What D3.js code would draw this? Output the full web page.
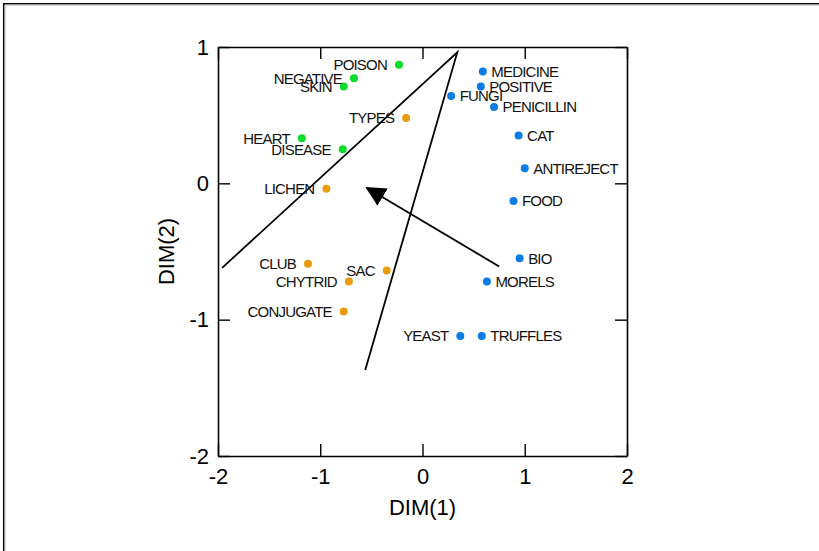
<!DOCTYPE html>
<html>
<head>
<meta charset="utf-8">
<script src="https://cdn.jsdelivr.net/npm/d3@7"></script>
<style>
  body { margin: 0; background: #fff; }
  svg text { font-family: "Liberation Sans", Arial, sans-serif; }
</style>
</head>
<body>
<div id="graphic"></div>
<script>
// configuration terms, coordinates
var terms = ["POISON", "NEGATIVE", "SKIN", "HEART", "DISEASE",
    "TYPES", "LICHEN", "CLUB", "SAC", "CHYTRID", "CONJUGATE",
    "MEDICINE", "POSITIVE", "FUNGI", "PENICILLIN", "CAT", "ANTIREJECT",
    "FOOD", "BIO", "MORELS", "YEAST", "TRUFFLES"];
var dim1 = [-0.23, -0.67, -0.77, -1.18, -0.78,
    -0.16, -0.94, -1.12, -0.35, -0.72, -0.77,
    0.59, 0.57, 0.28, 0.70, 0.94, 1.00,
    0.89, 0.95, 0.63, 0.37, 0.58];
var dim2 = [0.87, 0.77, 0.71, 0.33, 0.25,
    0.48, -0.04, -0.59, -0.64, -0.72, -0.94,
    0.82, 0.71, 0.64, 0.56, 0.35, 0.11,
    -0.13, -0.55, -0.72, -1.12, -1.12];
var cluster = [1, 1, 1, 1, 1,
    2, 2, 2, 2, 2, 2,
    3, 3, 3, 3, 3, 3, 3, 3, 3, 3, 3];
var labelSide = ["L", "L", "L", "L", "L",
    "L", "L", "L", "L", "L", "L",
    "R", "R", "R", "R", "R", "R", "R", "R", "R", "L", "R"];

// partition lines and property vector
var boundX = [-1.96, 0.34, -0.56],
    boundY = [-0.62, 0.96, -1.37];
var arrowX = [0.75, -0.55],
    arrowY = [-0.61, -0.03];

var tickValues = [-2, -1, 0, 1, 2];
var xTitle = "DIM(1)", yTitle = "DIM(2)";
var clusterColors = { 1: "#0adc2a", 2: "#e89c0c", 3: "#0a7ce6" };

var margin = { top: 47, right: 192, bottom: 95, left: 218 };
var W = 819, H = 551;
var width = W - margin.left - margin.right,
    height = H - margin.top - margin.bottom;

var svg = d3.select("#graphic").append("svg")
    .attr("width", W)
    .attr("height", H);

// window frame (top and left edges only)
svg.append("line").attr("x1", 3).attr("y1", 3.7).attr("x2", W).attr("y2", 3.7)
    .attr("stroke", "#000").attr("stroke-width", 1.5);
svg.append("line").attr("x1", 3.7).attr("y1", 3).attr("x2", 3.7).attr("y2", H)
    .attr("stroke", "#000").attr("stroke-width", 1.5);
svg.append("line").attr("x1", 5).attr("y1", 5).attr("x2", W).attr("y2", 5)
    .attr("stroke", "#b0b0b0").attr("stroke-width", 1);
svg.append("line").attr("x1", 5).attr("y1", 5).attr("x2", 5).attr("y2", H)
    .attr("stroke", "#b0b0b0").attr("stroke-width", 1);

var g = svg.append("g")
    .attr("transform", "translate(" + margin.left + "," + margin.top + ")");

var x = d3.scaleLinear().domain([-2, 2]).range([0, width]);
var y = d3.scaleLinear().domain([-2, 1]).range([height, 0]);

// plain hyphen for negatives, like the original
var fmt = function (d) { return String(d); };

function styleAxis(sel) {
    sel.select(".domain").attr("stroke", "#000").attr("stroke-width", 1.6);
    sel.selectAll(".tick line").attr("stroke", "#000").attr("stroke-width", 1.4);
    sel.selectAll(".tick text")
        .attr("fill", "#000")
        .style("font-size", "22px");
}

g.append("g")
    .attr("transform", "translate(0," + height + ")")
    .call(d3.axisBottom(x).tickValues(tickValues).tickSizeInner(-12).tickSizeOuter(0).tickPadding(12).tickFormat(fmt))
    .call(styleAxis);
g.append("g")
    .call(d3.axisTop(x).tickValues(tickValues).tickSizeInner(-12).tickSizeOuter(0).tickFormat(""))
    .call(styleAxis);
g.append("g")
    .call(d3.axisLeft(y).tickValues([-2, -1, 0, 1]).tickSizeInner(-12).tickSizeOuter(0).tickPadding(9).tickFormat(fmt))
    .call(styleAxis);
g.append("g")
    .attr("transform", "translate(" + width + ",0)")
    .call(d3.axisRight(y).tickValues([-2, -1, 0, 1]).tickSizeInner(-12).tickSizeOuter(0).tickFormat(""))
    .call(styleAxis);

g.selectAll(".domain").attr("fill", "none");

// axis titles
g.append("text")
    .attr("x", width / 2)
    .attr("y", height + 59)
    .attr("text-anchor", "middle")
    .style("font-size", "22px")
    .text(xTitle);
g.append("text")
    .attr("transform", "translate(" + (-44) + "," + (height / 2) + ") rotate(-90)")
    .attr("text-anchor", "middle")
    .style("font-size", "22px")
    .text(yTitle);

// partition lines
var bound = boundX.map(function (d, i) { return [d, boundY[i]]; });
g.append("path")
    .datum(bound)
    .attr("d", d3.line().x(function (d) { return x(d[0]); }).y(function (d) { return y(d[1]); }))
    .attr("fill", "none")
    .attr("stroke", "#000")
    .attr("stroke-width", 1.8)
    .attr("stroke-linejoin", "miter");

// property vector
svg.append("defs").append("marker")
    .attr("id", "head")
    .attr("markerUnits", "userSpaceOnUse")
    .attr("viewBox", "0 0 20 20")
    .attr("refX", 19)
    .attr("refY", 10)
    .attr("markerWidth", 20)
    .attr("markerHeight", 20)
    .attr("orient", "auto")
    .append("path")
    .attr("d", "M0,0L20,10L0,20Z")
    .attr("fill", "#000");

g.append("line")
    .attr("x1", x(arrowX[0]))
    .attr("y1", y(arrowY[0]))
    .attr("x2", x(arrowX[1]))
    .attr("y2", y(arrowY[1]))
    .attr("stroke", "#000")
    .attr("stroke-width", 1.8)
    .attr("marker-end", "url(#head)");

// points and labels
var idx = d3.range(terms.length);
g.selectAll("circle.pt")
    .data(idx)
    .enter().append("circle")
    .attr("class", "pt")
    .attr("cx", function (i) { return x(dim1[i]); })
    .attr("cy", function (i) { return y(dim2[i]); })
    .attr("r", 4)
    .attr("fill", function (i) { return clusterColors[cluster[i]]; });

g.selectAll("text.lbl")
    .data(idx)
    .enter().append("text")
    .attr("class", "lbl")
    .attr("x", function (i) { return x(dim1[i]) + (labelSide[i] === "L" ? -12 : 8.5); })
    .attr("y", function (i) { return y(dim2[i]); })
    .attr("dy", "0.36em")
    .attr("text-anchor", function (i) { return labelSide[i] === "L" ? "end" : "start"; })
    .attr("fill", "#111")
    .style("font-size", "15px")
    .style("letter-spacing", "-0.8px")
    .text(function (i) { return terms[i]; });
</script>
</body>
</html>
